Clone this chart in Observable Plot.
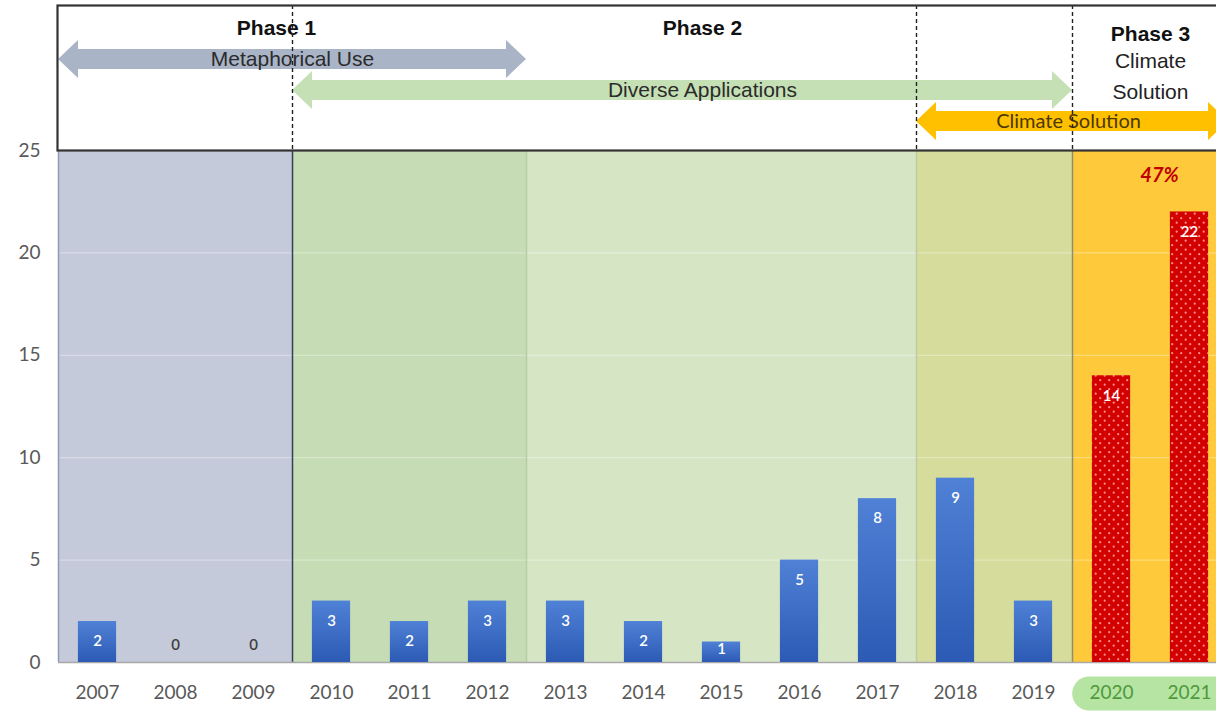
<!DOCTYPE html>
<html>
<head>
<meta charset="utf-8">
<script src="https://cdn.jsdelivr.net/npm/d3@7"></script>
<script src="https://cdn.jsdelivr.net/npm/@observablehq/plot@0.6"></script>
<style>
  html, body { margin: 0; padding: 0; overflow: hidden; background: #fff; }
  #wrap { position: relative; width: 1216px; height: 715px; overflow: hidden; }
  #wrap > svg { position: absolute; left: 0; top: 0; max-width: none !important; }
</style>
</head>
<body>
<svg width="0" height="0" style="position:absolute">
  <defs>
    <linearGradient id="blueGrad" x1="0" y1="0" x2="0" y2="1">
      <stop offset="0" stop-color="#4f81d6"/>
      <stop offset="1" stop-color="#2c5ab4"/>
    </linearGradient>
    <pattern id="redDots" patternUnits="userSpaceOnUse" width="9" height="9">
      <rect width="9" height="9" fill="#d30000"/>
      <circle cx="2.2" cy="2.2" r="1.1" fill="#ff8c8c"/>
      <circle cx="6.7" cy="6.7" r="1.1" fill="#ff8c8c"/>
    </pattern>
  </defs>
</svg>
<div id="wrap"></div>
<script>
// ---------- data ----------
const years  = [2007, 2008, 2009, 2010, 2011, 2012, 2013, 2014, 2015, 2016, 2017, 2018, 2019, 2020, 2021];
const counts = [2, 0, 0, 3, 2, 3, 3, 2, 1, 5, 8, 9, 3, 14, 22];
const yTicks = [0, 5, 10, 15, 20, 25];

// background periods
const bandNames = ["metaphorical", "diverseEarly", "diverse", "transition", "climate"];
const bandStart = [2007, 2010, 2013, 2018, 2020];
const bandEnd   = [2009, 2012, 2017, 2019, 2021];

// header arrows
const arrowKeys   = ["metaphorical", "diverse", "climate"];
const arrowLabels = ["Metaphorical Use", "Diverse Applications", "Climate Solution"];
const arrowStart  = [2007, 2010, 2018];
const arrowEnd    = [2012, 2019, 2021];
const arrowRows   = ["r1", "r2", "r3"];

// phase titles
const phaseTitles = ["Phase 1", "Phase 2", "Phase 3"];
const phaseStart  = [2007, 2010, 2020];
const phaseEnd    = [2012, 2019, 2021];
const phase3Lines = ["Climate", "Solution"];
const phase3Rows  = ["r1", "r2"];
const dividerYears = [2010, 2018, 2020];

const growth = [{from: 2020, to: 2021, label: "47%"}];
const highlightYears = [{from: 2020, to: 2021}];

// ---------- styles ----------
const bandFill = {metaphorical: "#c5cada", diverseEarly: "#c6dcb4", diverse: "#d6e6c5", transition: "#d6dc9c", climate: "#fec93a"};
const bandEdge = {metaphorical: "#8e9bb6", diverseEarly: "#34405a", diverse: "#b9cba8", transition: "#bfcb9f", climate: "#8f8e72"};
const arrowFill = {metaphorical: "#aab4c7", diverse: "#c6e0b5", climate: "#ffc000"};
const labelDx = {"Phase 1": -16, "Phase 2": 20, "Phase 3": 0, "Metaphorical Use": 0, "Diverse Applications": 20, "Climate Solution": -4};

// ---------- tables ----------
const data = years.map((year, i) => ({year, count: counts[i]}));
const bands = bandNames.map((name, i) => ({name, start: bandStart[i], end: bandEnd[i]}));
const arrows = arrowKeys.map((key, i) => ({key, label: arrowLabels[i], start: arrowStart[i], end: arrowEnd[i], row: arrowRows[i]}));
const phases = phaseTitles.map((title, i) => ({title, start: phaseStart[i], end: phaseEnd[i]}));
const p3 = phase3Lines.map((t, i) => ({text: t, row: phase3Rows[i], start: phaseStart[2], end: phaseEnd[2]}));

const W = 1228;
const ML = 58;
const xDomain = [years[0] - 0.5, years[years.length - 1] + 0.5];
const mid = d => (d.start + d.end) / 2;

// ---------- main chart ----------
const main = Plot.plot({
  width: W, height: 715,
  marginLeft: ML, marginRight: 0, marginTop: 150, marginBottom: 53,
  x: {domain: xDomain, axis: null},
  y: {domain: [0, 25], axis: null},
  style: {background: "transparent", overflow: "visible", maxWidth: "none", fontFamily: "Lato, 'Open Sans', sans-serif", color: "#595959"},
  marks: [
    ...bands.map(b => Plot.rectY([b], {x1: d => d.start - 0.5, x2: d => d.end + 0.5, y1: 0, y2: 25, fill: bandFill[b.name]})),
    Plot.ruleY(yTicks.filter(t => t > 0 && t < 25), {stroke: "#ffffff", strokeOpacity: 0.4}),
    ...bands.map(b => Plot.ruleX([b], {x: d => d.start - 0.5, y1: 0, y2: 25, stroke: bandEdge[b.name], strokeWidth: 1.5})),
    Plot.ruleY([0], {stroke: "#a8a8a8", strokeWidth: 1.5}),
    Plot.rectY(data.filter(d => d.year < 2020), {x1: d => d.year - 0.245, x2: d => d.year + 0.245, y: "count", fill: "url(#blueGrad)"}),
    Plot.rectY(data.filter(d => d.year >= 2020), {x1: d => d.year - 0.245, x2: d => d.year + 0.245, y: "count", fill: "url(#redDots)"}),
    Plot.text(data.filter(d => d.count >= 2), {x: "year", y: "count", text: d => String(d.count), dy: 20, fill: "#ffffff", fontSize: 15, fontWeight: 600}),
    Plot.text(data.filter(d => d.count === 1), {x: "year", y: "count", text: d => String(d.count), dy: 7, fill: "#ffffff", fontSize: 15, fontWeight: 600}),
    Plot.text(data.filter(d => d.count === 0), {x: "year", y: "count", text: d => String(d.count), dy: -17, fill: "#404040", fontSize: 15, fontWeight: 600}),
    Plot.ruleY(highlightYears, {y: 0, x1: d => d.from - 0.28, x2: d => d.to + 0.5, dy: 31, stroke: "#b6e4a2", strokeWidth: 34, strokeLinecap: "round"}),
    Plot.text(years.filter(y => y < 2020), {x: d => d, text: d => String(d), frameAnchor: "bottom", lineAnchor: "middle", dy: 30, fill: "#595959", fontSize: 19}),
    Plot.text(years.filter(y => y >= 2020), {x: d => d, text: d => String(d), frameAnchor: "bottom", lineAnchor: "middle", dy: 30, fill: "#4f9a3c", fontSize: 19}),
    Plot.text(growth, {x: d => (d.from + d.to) / 2, frameAnchor: "top", lineAnchor: "middle", dy: 25, dx: 9, text: "label", fill: "#c00000", fontSize: 20, fontWeight: "bold", fontStyle: "italic"}),
    Plot.axisY({ticks: yTicks, tickSize: 0, tickPadding: 18, fontSize: 19, label: null})
  ]
});

// ---------- header ----------
function arrowShapes(index, scales) {
  const g = d3.create("svg:g");
  const bh = 10, hh = 19, hl = 20;
  for (const a of arrows) {
    const x1 = scales.x(a.start - 0.5), x2 = scales.x(a.end + 0.5), yc = scales.y(a.row);
    const pts = [[x1, yc], [x1 + hl, yc - hh], [x1 + hl, yc - bh], [x2 - hl, yc - bh], [x2 - hl, yc - hh],
                 [x2, yc], [x2 - hl, yc + hh], [x2 - hl, yc + bh], [x1 + hl, yc + bh], [x1 + hl, yc + hh]];
    g.append("polygon").attr("points", pts.map(p => p.join(",")).join(" ")).attr("fill", arrowFill[a.key]);
  }
  return g.node();
}

const textMarks = (rows, opts) => rows.map(r => Plot.text([r], {...opts, dx: labelDx[opts.key(r)] || 0}));

const header = Plot.plot({
  width: W, height: 152,
  marginLeft: ML - 1, marginRight: 0, marginTop: 5, marginBottom: 2,
  x: {domain: xDomain, range: [ML, W], axis: null},
  y: {type: "point", domain: ["title", "r1", "r2", "r3"], range: [27, 122], padding: 0, axis: null},
  style: {background: "transparent", overflow: "visible", maxWidth: "none", fontFamily: "'Liberation Sans', Arial, sans-serif"},
  marks: [
    arrowShapes,
    ...arrows.filter(a => a.key !== "climate").map(a => Plot.text([a], {x: mid, y: "row", text: "label", fill: "#2b2b2b", fontSize: 21, dx: labelDx[a.label]})),
    ...arrows.filter(a => a.key === "climate").map(a => Plot.text([a], {x: mid, y: "row", text: "label", fill: "#4a3800", fontSize: 20, fontFamily: "Lato, sans-serif", dx: labelDx[a.label]})),
    ...phases.map(p => Plot.text([p], {x: mid, y: () => "title", text: "title", fill: "#111", fontSize: 21, fontWeight: "bold", dx: labelDx[p.title], dy: p.title === "Phase 3" ? 6 : 0})),
    Plot.text(p3, {x: mid, y: "row", text: "text", fill: "#222", fontSize: 21, dy: 2}),
    Plot.ruleX(dividerYears, {x: d => d - 0.5, stroke: "#222", strokeWidth: 1.4, strokeDasharray: "4,3"}),
    Plot.frame({stroke: "#333", strokeWidth: 2.2})
  ]
});

const wrap = document.getElementById("wrap");
wrap.appendChild(main);
wrap.appendChild(header);
</script>
</body>
</html>
